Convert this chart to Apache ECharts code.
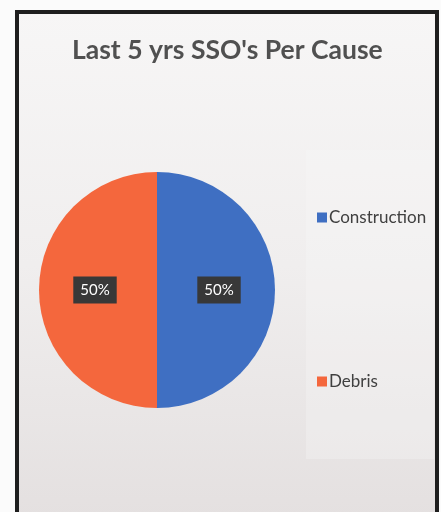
<!DOCTYPE html>
<html>
<head>
<meta charset="utf-8">
<script src="https://cdn.jsdelivr.net/npm/echarts@6/dist/echarts.min.js"></script>
<style>
html,body{margin:0;padding:0;background:#fbfbfb;}
#c{width:441px;height:512px;}
</style>
</head>
<body>
<div id="c"></div>
<script>
const titleText = "Last 5 yrs SSO's Per Cause";
const categories = ["Construction", "Debris"];
const values = [50, 50];
const colors = ["#3f6fc2", "#f4673d"];

const chart = echarts.init(document.getElementById('c'));
chart.setOption({
  animation: false,
  backgroundColor: '#fbfbfb',
  graphic: [
    { type: 'rect', z: -10, shape: { x: 17, y: 12, width: 420, height: 505 },
      style: { fill: new echarts.graphic.LinearGradient(0, 0, 0, 1, [
        { offset: 0, color: '#f7f6f6' }, { offset: 0.5, color: '#f0eeee' }, { offset: 1, color: '#e4e0e0' }]),
        stroke: '#1e1e1e', lineWidth: 4 } },
    { type: 'rect', z: -9, shape: { x: 306, y: 150, width: 128, height: 309 },
      style: { fill: 'rgba(250,250,250,0.3)' } }
  ],
  title: {
    text: titleText,
    left: 67,
    top: 32,
    textStyle: { fontFamily: 'Lato', fontWeight: 'bold', fontSize: 26.5, color: '#505050' }
  },
  legend: {
    orient: 'vertical',
    left: 312,
    top: 204,
    itemGap: 147,
    itemWidth: 10,
    itemHeight: 10,
    icon: 'rect',
    textStyle: { fontFamily: 'Lato', fontSize: 17, color: '#404040', padding: [0, 0, 0, -3] },
    data: categories
  },
  series: [{
    type: 'pie',
    center: [157, 290],
    radius: 118,
    startAngle: 90,
    clockwise: true,
    label: {
      position: 'inside',
      formatter: '{d}%',
      color: '#ffffff',
      backgroundColor: '#383838',
      padding: [6, 7],
      fontFamily: 'Lato',
      fontSize: 15
    },
    labelLine: { show: false },
    itemStyle: { borderWidth: 0 },
    data: categories.map((n, i) => ({ name: n, value: values[i], itemStyle: { color: colors[i] } }))
  }]
});
</script>
</body>
</html>
